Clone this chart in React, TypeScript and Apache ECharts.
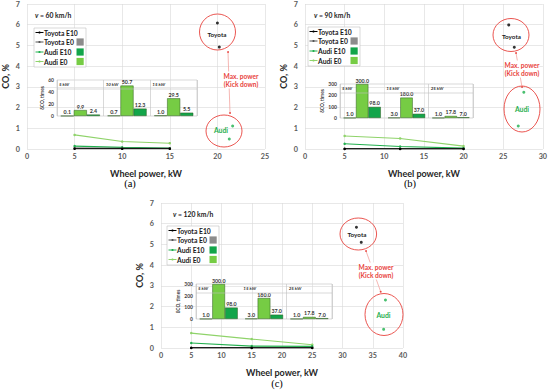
import React, { useEffect, useRef } from 'react';
import * as echarts from 'echarts';

// ---------- data ----------
const lineNames = ['Toyota E10', 'Toyota E0', 'Audi E10', 'Audi E0'];
const barNames = ['Toyota E0', 'Audi E0', 'Audi E10'];
const insetTitle = 'δCO, times';

// panel (a) v = 60 km/h
const powerA = [5, 10, 15];
const toyotaE10A = [0.01, 0.01, 0.01];
const toyotaE0A = [0.04, 0.03, 0.03];
const audiE10A = [0.14, 0.08, 0.04];
const audiE0A = [0.68, 0.36, 0.28];
const toyotaMaxA = [[20.0, 6.08], [20.2, 4.92]];
const audiMaxA = [[21.6, 1.11], [21.25, 0.48]];
const catsA = ['5 kW', '10 kW', '15 kW'];
const toyotaRatioA = [0.1, 0.7, 1.0];
const audiE0RatioA = [9.9, 50.7, 29.5];
const audiE10RatioA = [2.4, 12.3, 5.5];

// panel (b) v = 90 km/h
const powerB = [5, 12, 20];
const toyotaE10B = [0.005, 0.005, 0.005];
const toyotaE0B = [0.01, 0.01, 0.01];
const audiE10B = [0.25, 0.12, 0.04];
const audiE0B = [0.63, 0.51, 0.14];
const toyotaMaxB = [[25.7, 5.99], [26.4, 4.91]];
const audiMaxB = [[27.6, 2.74], [26.9, 1.11]];
const catsB = ['5 kW', '15 kW', '25 kW'];
const toyotaRatioB = [1.0, 3.0, 1.0];
const audiE0RatioB = [300.0, 180.0, 17.8];
const audiE10RatioB = [98.0, 37.0, 7.0];

// panel (c) v = 120 km/h
const powerC = [5, 15, 25];
const toyotaE10C = [0.005, 0.005, 0.005];
const toyotaE0C = [0.01, 0.01, 0.01];
const audiE10C = [0.24, 0.09, 0.08];
const audiE0C = [0.72, 0.43, 0.16];
const toyotaMaxC = [[32.3, 5.83], [33.1, 5.1]];
const audiMaxC = [[37.1, 2.32], [36.8, 0.9]];
const catsC = ['5 kW', '15 kW', '25 kW'];
const toyotaRatioC = [1.0, 3.0, 1.0];
const audiE0RatioC = [300.0, 180.0, 17.8];
const audiE10RatioC = [98.0, 37.0, 7.0];

// ---------- styles ----------
const lineColors = ['#000000', '#555555', '#22b04f', '#8fd36a'];
const barColors = ['#8c8c8c', '#76cc44', '#12a54a'];
const legendBoxColors = [null, '#8c8c8c', '#12a54a', '#76cc44'];
const FONT = 'Lato, "Open Sans", sans-serif';
const RED = '#e8433d';

const panels = [
  {
    speed: '60', tag: '(a)', power: powerA,
    lines: [toyotaE10A, toyotaE0A, audiE10A, audiE0A],
    toyotaMax: toyotaMaxA, audiMax: audiMaxA, cats: catsA,
    ratios: [toyotaRatioA, audiE0RatioA, audiE10RatioA],
    xMax: 25, insetMax: 60, insetInt: 20,
    L: {
      main: { left: 25, top: 4, width: 240, height: 145 },
      inset: { left: 57, top: 80, width: 140, height: 36 },
      legend: { x: 34, y: 28 }, speed: { x: 35, y: 15 }, tag: { x: 130, y: 183 },
      tEll: { cx: 217.5, cy: 32, rx: 18, ry: 18 }, aEll: { cx: 224, cy: 131, rx: 18, ry: 16 },
      arrow: { x1: 228, y1: 52, x2: 230, y2: 113 }, note: { x: 241, y: 80 },
      tLbl: { x: 217, y: 34 }, aLbl: { x: 221, y: 130 },
    },
  },
  {
    speed: '90', tag: '(b)', power: powerB,
    lines: [toyotaE10B, toyotaE0B, audiE10B, audiE0B],
    toyotaMax: toyotaMaxB, audiMax: audiMaxB, cats: catsB,
    ratios: [toyotaRatioB, audiE0RatioB, audiE10RatioB],
    xMax: 30, insetMax: 300, insetInt: 100,
    L: {
      main: { left: 305, top: 4, width: 238, height: 145 },
      inset: { left: 340, top: 84, width: 133, height: 34 },
      legend: { x: 308, y: 27 }, speed: { x: 314, y: 15 }, tag: { x: 410, y: 183 },
      tEll: { cx: 511, cy: 35, rx: 18, ry: 16.5 }, aEll: { cx: 522, cy: 109, rx: 18, ry: 23 },
      arrow: { x1: 516, y1: 53, x2: 522, y2: 87 }, note: { x: 522, y: 69 },
      tLbl: { x: 511.5, y: 36 }, aLbl: { x: 522, y: 108.5 },
    },
  },
  {
    speed: '120', tag: '(c)', power: powerC,
    lines: [toyotaE10C, toyotaE0C, audiE10C, audiE0C],
    toyotaMax: toyotaMaxC, audiMax: audiMaxC, cats: catsC,
    ratios: [toyotaRatioC, audiE0RatioC, audiE10RatioC],
    xMax: 40, insetMax: 300, insetInt: 100,
    L: {
      main: { left: 161, top: 203, width: 242, height: 145 },
      inset: { left: 196, top: 284, width: 136, height: 35 },
      legend: { x: 167, y: 226 }, speed: { x: 173, y: 214 }, tag: { x: 277, y: 383 },
      tEll: { cx: 358.3, cy: 234, rx: 18.3, ry: 16 }, aEll: { cx: 384, cy: 314.5, rx: 19, ry: 21 },
      arrow: { x1: 366, y1: 251, x2: 380.7, y2: 291.7 }, note: { x: 376, y: 271 },
      tLbl: { x: 357, y: 234.5 }, aLbl: { x: 383.5, y: 314.5 },
    },
  },
];

function buildOption() {
  const grid: any[] = [];
  const xAxis: any[] = [];
  const yAxis: any[] = [];
  const series: any[] = [];
  const graphic: any[] = [];

  panels.forEach((p, pi) => {
    const mi = pi * 2;
    const ii = pi * 2 + 1;
    const L = p.L;
    grid.push({ ...L.main, containLabel: false });
    grid.push({ ...L.inset, containLabel: false, show: true, borderColor: '#bfbfbf', borderWidth: 0.6, backgroundColor: 'rgba(255,255,255,0)' });

    xAxis.push({
      type: 'value', gridIndex: mi, min: 0, max: p.xMax, interval: 5,
      axisLine: { show: false }, axisTick: { show: false },
      splitLine: { show: true, lineStyle: { color: '#d9d9d9', width: 0.6 } },
      axisLabel: { fontSize: 7.2, color: '#595959', margin: 4, fontFamily: FONT, fontWeight: 'bold' },
      name: 'Wheel power, kW', nameLocation: 'middle', nameGap: 20,
      nameTextStyle: { fontSize: 9, fontWeight: 'bold', color: '#262626', fontFamily: FONT },
    });
    yAxis.push({
      type: 'value', gridIndex: mi, min: 0, max: 7, interval: 1,
      axisLine: { show: false }, axisTick: { show: false },
      splitLine: { show: true, lineStyle: { color: '#d9d9d9', width: 0.6 } },
      axisLabel: { fontSize: 7.2, color: '#595959', margin: 7, fontFamily: FONT, fontWeight: 'bold' },
      name: 'CO, %', nameLocation: 'middle', nameGap: 17,
      nameTextStyle: { fontSize: 9, fontWeight: 'bold', color: '#262626', fontFamily: FONT },
    });
    xAxis.push({
      type: 'category', gridIndex: ii, data: p.cats,
      axisLine: { show: false }, axisTick: { show: false }, axisLabel: { show: false },
      splitLine: { show: true, lineStyle: { color: '#bfbfbf', width: 0.6 } },
    });
    yAxis.push({
      type: 'value', gridIndex: ii, min: 0, max: p.insetMax, interval: p.insetInt,
      axisLine: { show: false }, axisTick: { show: false },
      splitLine: { show: false },
      axisLabel: { fontSize: 5, color: '#404040', margin: 3, fontFamily: FONT, fontWeight: 'bold' },
      name: insetTitle, nameLocation: 'middle', nameGap: 12.5,
      nameTextStyle: { fontSize: 4.8, color: '#404040', fontFamily: FONT, fontWeight: 'bold' },
    });

    p.lines.forEach((vals, si) => {
      series.push({
        type: 'line', name: lineNames[si], xAxisIndex: mi, yAxisIndex: mi,
        data: p.power.map((x, k) => [x, vals[k]]),
        symbol: 'circle', symbolSize: 2.5,
        lineStyle: { color: lineColors[si], width: 1.1 },
        itemStyle: { color: lineColors[si] },
        z: si === 0 ? 5 : 4 - si,
      });
    });
    series.push({
      type: 'scatter', name: 'Toyota max', xAxisIndex: mi, yAxisIndex: mi,
      data: p.toyotaMax, symbolSize: 3, itemStyle: { color: '#000' },
    });
    series.push({
      type: 'scatter', name: 'Audi max', xAxisIndex: mi, yAxisIndex: mi,
      data: p.audiMax, symbolSize: 3, itemStyle: { color: '#1db04c' },
    });
    p.ratios.forEach((vals, bi) => {
      series.push({
        type: 'bar', name: barNames[bi], xAxisIndex: ii, yAxisIndex: ii,
        data: vals, barGap: '0%', barCategoryGap: '16%',
        itemStyle: { color: barColors[bi], borderColor: '#2d5a1e', borderWidth: 0.5 },
        label: {
          show: true, position: 'top', distance: 1, fontSize: 5.3, fontWeight: 'bold',
          color: '#333', fontFamily: FONT,
          formatter: (d: any) => Number(d.value).toFixed(1),
        },
      });
    });

    // inset header row line + category labels
    const I = L.inset;
    graphic.push({
      type: 'line', shape: { x1: I.left, y1: I.top + 9, x2: I.left + I.width, y2: I.top + 9 },
      style: { stroke: '#bfbfbf', lineWidth: 0.6 }, z: 5,
    });
    p.cats.forEach((c, k) => {
      graphic.push({
        type: 'text', x: I.left + (k * I.width) / 3 + 2, y: I.top + 4.5,
        style: { text: c, fontSize: 4.5, fontStyle: 'italic', fontWeight: 'bold', fill: '#333', fontFamily: FONT, verticalAlign: 'middle' },
        z: 5,
      });
    });

    // legend
    const G = L.legend;
    const rows = [4.5, 14, 24, 33.5];
    graphic.push({
      type: 'rect', shape: { x: G.x, y: G.y, width: 52, height: 39 },
      style: { fill: '#fff', stroke: '#bfbfbf', lineWidth: 0.6 }, z: 10,
    });
    lineNames.forEach((n, k) => {
      const yy = G.y + rows[k];
      graphic.push({ type: 'line', shape: { x1: G.x + 1.5, y1: yy, x2: G.x + 9.5, y2: yy }, style: { stroke: lineColors[k], lineWidth: 1 }, z: 11 });
      graphic.push({ type: 'circle', shape: { cx: G.x + 5.5, cy: yy, r: 1.1 }, style: { fill: lineColors[k] }, z: 11 });
      graphic.push({
        type: 'text', x: G.x + 10, y: yy,
        style: { text: n, fontSize: 6.8, fontWeight: 'bold', fill: '#1a1a1a', fontFamily: FONT, verticalAlign: 'middle' }, z: 11,
      });
      const bc = legendBoxColors[k];
      if (bc) {
        graphic.push({ type: 'rect', shape: { x: G.x + 42.5, y: yy - 3.6, width: 7.2, height: 7.2 }, style: { fill: bc }, z: 11 });
      }
    });

    // speed label
    graphic.push({
      type: 'text', x: L.speed.x, y: L.speed.y,
      style: {
        text: '{i|v} = ' + p.speed + ' km/h',
        rich: { i: { fontStyle: 'italic', fontSize: 6.8, fontWeight: 'bold', fontFamily: FONT, fill: '#1a1a1a' } },
        fontSize: 6.8, fontWeight: 'bold', fill: '#1a1a1a', fontFamily: FONT, verticalAlign: 'middle',
      },
      z: 11,
    });

    // panel tag
    graphic.push({
      type: 'text', x: L.tag.x, y: L.tag.y,
      style: { text: p.tag, fontSize: 10.5, fill: '#000', fontFamily: '"Liberation Serif", serif', align: 'center', verticalAlign: 'middle' },
    });

    // annotations
    graphic.push({ type: 'ellipse', shape: L.tEll, style: { fill: 'none', stroke: RED, lineWidth: 0.9 }, z: 6 });
    graphic.push({ type: 'ellipse', shape: L.aEll, style: { fill: 'none', stroke: RED, lineWidth: 0.9 }, z: 6 });
    graphic.push({ type: 'line', shape: L.arrow, style: { stroke: '#f2a3a0', lineWidth: 0.8 }, z: 6 });
    graphic.push({ type: 'circle', shape: { cx: L.arrow.x1, cy: L.arrow.y1, r: 0.9 }, style: { fill: RED }, z: 7 });
    graphic.push({ type: 'circle', shape: { cx: L.arrow.x2, cy: L.arrow.y2, r: 0.9 }, style: { fill: RED }, z: 7 });
    graphic.push({
      type: 'text', x: L.note.x, y: L.note.y,
      style: {
        text: 'Max. power\n(Kick down)', fontSize: 6.6, fontWeight: 'bold', fill: RED, fontFamily: FONT,
        align: 'center', verticalAlign: 'middle', lineHeight: 8.5, backgroundColor: '#fff',
      },
      z: 8,
    });
    graphic.push({
      type: 'text', x: L.tLbl.x, y: L.tLbl.y,
      style: { text: 'Toyota', fontSize: 6.3, fontWeight: 'bold', fill: '#1a1a1a', fontFamily: FONT, align: 'center', verticalAlign: 'middle' },
      z: 8,
    });
    graphic.push({
      type: 'text', x: L.aLbl.x, y: L.aLbl.y,
      style: { text: 'Audi', fontSize: 6.8, fontWeight: 'bold', fill: '#1fae4e', fontFamily: FONT, align: 'center', verticalAlign: 'middle' },
      z: 8,
    });
  });

  return {
    animation: false,
    backgroundColor: '#ffffff',
    textStyle: { fontFamily: FONT },
    grid, xAxis, yAxis, series, graphic,
  };
}

export default function App() {
  const ref = useRef<HTMLDivElement>(null);
  useEffect(() => {
    if (!ref.current) return;
    const chart = echarts.init(ref.current, undefined, { renderer: 'svg' });
    chart.setOption(buildOption() as any);
    return () => chart.dispose();
  }, []);
  return (
    <div
      ref={ref}
      style={{ position: 'fixed', left: 0, top: 0, width: 550, height: 391, background: '#fff' }}
    />
  );
}
